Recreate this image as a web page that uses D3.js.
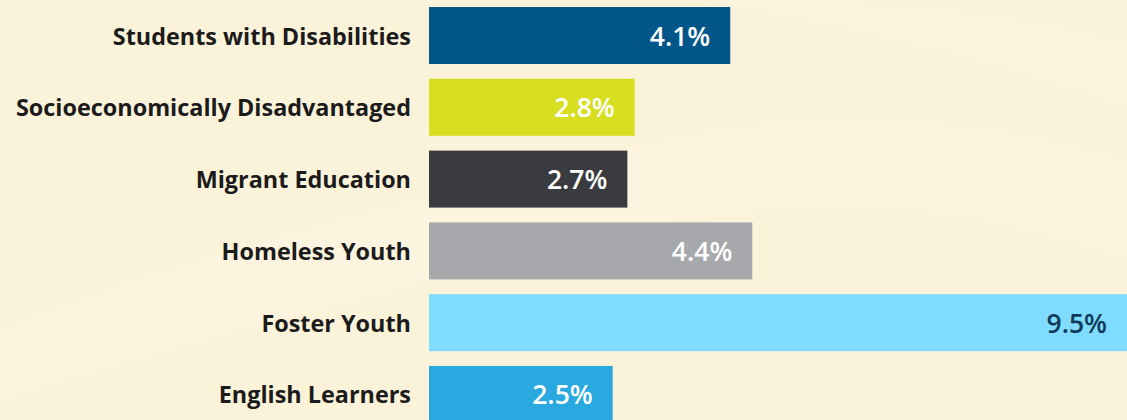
<!DOCTYPE html>
<html>
<head>
<meta charset="utf-8">
<script src="https://cdn.jsdelivr.net/npm/d3@7"></script>
<style>
  html, body { margin: 0; padding: 0; background: #fbf2da; }
  svg { display: block; }
</style>
</head>
<body>
<svg width="1127" height="420"></svg>
<script>
var groups = ["Students with Disabilities", "Socioeconomically Disadvantaged", "Migrant Education",
              "Homeless Youth", "Foster Youth", "English Learners"];
var rates = [4.1, 2.8, 2.7, 4.4, 9.5, 2.5];
var barColors = ["#02568a", "#d8df21", "#3a3b3f", "#a7a8ac", "#80dcff", "#29a9e0"];
var valueColors = ["#ffffff", "#ffffff", "#ffffff", "#ffffff", "#0f3a5a", "#ffffff"];

svg = d3.select("svg");
widthSvg = +svg.attr("width");
heightSvg = +svg.attr("height");

// soft background waves
var bg = svg.append("g").attr("class", "bg");
bg.append("rect").attr("width", widthSvg).attr("height", heightSvg).attr("fill", "#fbf2da");
bg.append("path")
    .attr("d", "M0,330 C200,250 420,200 620,150 C820,100 980,120 1127,160 L1127,260 C960,200 820,190 640,230 C430,280 220,330 0,400 Z")
    .attr("fill", "#fff9ec").attr("opacity", 0.3);
bg.append("path")
    .attr("d", "M700,0 C850,30 1000,60 1127,110 L1127,40 C1000,10 900,0 800,0 Z")
    .attr("fill", "#fff9ec").attr("opacity", 0.25);

x = d3.scaleLinear()
    .domain([0, 9.5])
    .range([429, 1127]);

y = d3.scaleBand()
    .domain(groups)
    .range([7, 423])
    .paddingInner(0.206)
    .paddingOuter(0);

var rows = svg.append("g").attr("class", "rows")
  .selectAll("g")
  .data(groups)
  .enter().append("g")
    .attr("transform", function(d) { return "translate(" + [0, y(d)] + ")"; });

rows.append("rect")
    .attr("x", x(0))
    .attr("width", function(d, i) { return x(rates[i]) - x(0); })
    .attr("height", y.bandwidth())
    .attr("fill", function(d, i) { return barColors[i]; });

rows.append("text")
    .attr("x", x(0) - 18)
    .attr("y", y.bandwidth() / 2)
    .attr("text-anchor", "end")
    .attr("dominant-baseline", "central")
    .attr("font-family", "'Open Sans', Lato, sans-serif")
    .attr("font-weight", 700)
    .attr("font-size", 23.4)
    .attr("fill", "#1b1b1b")
    .text(function(d) { return d; });

rows.append("text")
    .attr("x", function(d, i) { return x(rates[i]) - 20; })
    .attr("y", y.bandwidth() / 2)
    .attr("text-anchor", "end")
    .attr("dominant-baseline", "central")
    .attr("font-family", "'Open Sans', Lato, sans-serif")
    .attr("font-weight", 600)
    .attr("font-size", 26.5)
    .attr("fill", function(d, i) { return valueColors[i]; })
    .text(function(d, i) { return rates[i].toFixed(1) + "%"; });
</script>
</body>
</html>
